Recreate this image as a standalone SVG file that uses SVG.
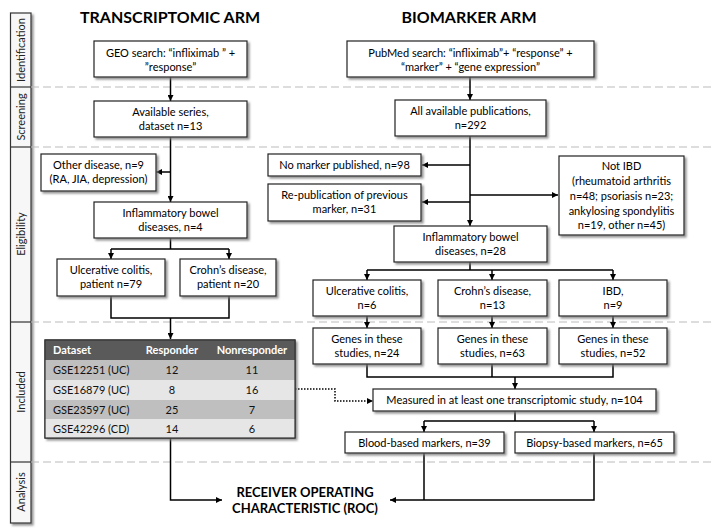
<svg xmlns="http://www.w3.org/2000/svg" width="714" height="530" viewBox="0 0 714 530">
<defs>
<filter id="sh" x="-10%" y="-10%" width="130%" height="140%">
<feDropShadow dx="2" dy="2" stdDeviation="1.2" flood-color="#777" flood-opacity="0.8"/>
</filter>
<marker id="ah" viewBox="0 0 10 10" refX="10" refY="5" markerWidth="7" markerHeight="6" markerUnits="userSpaceOnUse" orient="auto">
<path d="M0,0 L10,5 L0,10 z" fill="#000"/>
</marker>
</defs>
<style>
.box{fill:#fff;stroke:#222;stroke-width:1.2;filter:url(#sh)}
.t{font-family:Lato,"Open Sans",sans-serif;font-size:11px;fill:#000;text-anchor:middle}
.side{font-family:Lato,"Open Sans",sans-serif;font-size:11px;fill:#222;text-anchor:middle}
.title{font-family:Lato,"Open Sans",sans-serif;font-size:16px;font-weight:bold;fill:#000;text-anchor:middle}
.roc{font-family:Lato,"Open Sans",sans-serif;font-size:13px;font-weight:bold;fill:#000;text-anchor:middle}
.c{fill:none;stroke:#000;stroke-width:1.5}
.a{marker-end:url(#ah)}
.dash{fill:none;stroke:#bbb;stroke-width:1.2;stroke-dasharray:8,4}
.th{font-family:Lato,"Open Sans",sans-serif;font-size:11px;font-weight:bold;fill:#fff}
.td{font-family:Lato,"Open Sans",sans-serif;font-size:11px;fill:#111}
</style>
<rect width="714" height="530" fill="#fff"/>

<g id="sidebar">
<rect x="10.5" y="13" width="20.5" height="510" fill="#f7f7f7" stroke="#333" stroke-width="1.2" filter="url(#sh)"/>
<g stroke="#333" stroke-width="1.2">
<line x1="10.5" y1="87" x2="31" y2="87"/>
<line x1="10.5" y1="147" x2="31" y2="147"/>
<line x1="10.5" y1="322" x2="31" y2="322"/>
<line x1="10.5" y1="462" x2="31" y2="462"/>
</g>
<text class="side" transform="translate(24.5,50) rotate(-90)">Identification</text>
<text class="side" transform="translate(24.5,117) rotate(-90)">Screening</text>
<text class="side" transform="translate(24.5,234) rotate(-90)">Eligibility</text>
<text class="side" transform="translate(24.5,392) rotate(-90)">Included</text>
<text class="side" transform="translate(24.5,492) rotate(-90)">Analysis</text>
</g>

<g id="separators">
<line class="dash" x1="31" y1="87" x2="714" y2="87"/>
<line class="dash" x1="31" y1="147" x2="714" y2="147"/>
<line class="dash" x1="31" y1="322" x2="714" y2="322"/>
<line class="dash" x1="31" y1="462" x2="714" y2="462"/>
</g>

<g id="titles">
<text class="title" x="170" y="23">TRANSCRIPTOMIC ARM</text>
<text class="title" x="469" y="23">BIOMARKER ARM</text>
</g>

<g id="connectors">
<path class="c a" d="M170.5,77 V101"/>
<path class="c a" d="M170.5,137 V202"/>
<path class="c a" d="M170.5,172 H156"/>
<path class="c" d="M170.5,238 V249 M111,249 H229"/>
<path class="c a" d="M111,249 V259"/>
<path class="c a" d="M229,249 V259"/>
<path class="c" d="M111,296 V318 H229 V296"/>
<path class="c a" d="M170.5,318 V339"/>
<path class="c a" d="M170.5,438 V500 H222"/>

<path class="c a" d="M470,77 V100"/>
<path class="c a" d="M470,136 V226"/>
<path class="c a" d="M470,165 H422"/>
<path class="c a" d="M470,202 H422"/>
<path class="c a" d="M470,195 H558"/>
<path class="c" d="M470,262 V270 M367,270 H613"/>
<path class="c a" d="M367,270 V280"/>
<path class="c a" d="M492,270 V280"/>
<path class="c a" d="M613,270 V280"/>
<path class="c a" d="M367,316 V328"/>
<path class="c a" d="M492,316 V328"/>
<path class="c a" d="M613,316 V328"/>
<path class="c" d="M367,364 V377 H613 V364 M492,364 V377"/>
<path class="c a" d="M515,377 V389"/>
<path class="c" d="M515,411 V421 M424,421 H594"/>
<path class="c a" d="M424,421 V432"/>
<path class="c a" d="M594,421 V432"/>
<path class="c" d="M424,453 V500"/>
<path class="c a" d="M594,453 V500 H390"/>
<path class="c a" d="M295,389 H335 V401 H373" stroke-dasharray="1.5,1.5"/>
</g>

<g id="geo">
<rect class="box" x="94" y="41" width="153" height="36"/>
<text class="t" x="170.5" y="57">GEO search: “infliximab ” +</text>
<text class="t" x="170.5" y="71">”response”</text>
</g>
<g id="series">
<rect class="box" x="94" y="101" width="153" height="36"/>
<text class="t" x="170.5" y="116">Available series,</text>
<text class="t" x="170.5" y="130">dataset n=13</text>
</g>
<g id="other">
<rect class="box" x="41" y="154" width="115" height="37"/>
<text class="t" x="98.5" y="169">Other disease, n=9</text>
<text class="t" x="98.5" y="183">(RA, JIA, depression)</text>
</g>
<g id="ibd4">
<rect class="box" x="94" y="202" width="153" height="36"/>
<text class="t" x="170.5" y="217">Inflammatory bowel</text>
<text class="t" x="170.5" y="231">diseases, n=4</text>
</g>
<g id="uc79">
<rect class="box" x="57" y="259" width="108" height="37"/>
<text class="t" x="111" y="274">Ulcerative colitis,</text>
<text class="t" x="111" y="288">patient n=79</text>
</g>
<g id="cd20">
<rect class="box" x="180" y="259" width="96" height="37"/>
<text class="t" x="228" y="274">Crohn’s disease,</text>
<text class="t" x="228" y="288">patient n=20</text>
</g>

<g id="table">
<rect x="45" y="340" width="250" height="98" fill="#e6e6e6" stroke="#333" stroke-width="1.2" filter="url(#sh)"/>
<rect x="45" y="340" width="250" height="20" fill="#5a5a5a"/>
<rect x="45" y="360" width="250" height="20" fill="#bfbfbf"/>
<rect x="45" y="380" width="250" height="20" fill="#e6e6e6"/>
<rect x="45" y="400" width="250" height="19" fill="#bfbfbf"/>
<rect x="45" y="419" width="250" height="19" fill="#e6e6e6"/>
<rect x="45" y="340" width="250" height="98" fill="none" stroke="#333" stroke-width="1.2"/>
<text class="th" x="53" y="354">Dataset</text>
<text class="th" x="172" y="354" text-anchor="middle">Responder</text>
<text class="th" x="252" y="354" text-anchor="middle">Nonresponder</text>
<text class="td" x="53" y="374">GSE12251 (UC)</text>
<text class="td" x="172" y="374" text-anchor="middle">12</text>
<text class="td" x="252" y="374" text-anchor="middle">11</text>
<text class="td" x="53" y="394">GSE16879 (UC)</text>
<text class="td" x="172" y="394" text-anchor="middle">8</text>
<text class="td" x="252" y="394" text-anchor="middle">16</text>
<text class="td" x="53" y="413.5">GSE23597 (UC)</text>
<text class="td" x="172" y="413.5" text-anchor="middle">25</text>
<text class="td" x="252" y="413.5" text-anchor="middle">7</text>
<text class="td" x="53" y="432.5">GSE42296 (CD)</text>
<text class="td" x="172" y="432.5" text-anchor="middle">14</text>
<text class="td" x="252" y="432.5" text-anchor="middle">6</text>
</g>

<g id="roc">
<text class="roc" x="305" y="497">RECEIVER OPERATING</text>
<text class="roc" x="305" y="513">CHARACTERISTIC (ROC)</text>
</g>

<g id="pubmed">
<rect class="box" x="347" y="41" width="247" height="36"/>
<text class="t" x="470.5" y="57">PubMed search: “infliximab”+ “response” +</text>
<text class="t" x="470.5" y="71">“marker” + “gene expression”</text>
</g>
<g id="pubs">
<rect class="box" x="395" y="100" width="151" height="36"/>
<text class="t" x="470.5" y="115">All available publications,</text>
<text class="t" x="470.5" y="129">n=292</text>
</g>
<g id="nomarker">
<rect class="box" x="268" y="154" width="153" height="22"/>
<text class="t" x="344.5" y="169">No marker published, n=98</text>
</g>
<g id="republ">
<rect class="box" x="268" y="184" width="153" height="37"/>
<text class="t" x="344.5" y="199">Re-publication of previous</text>
<text class="t" x="344.5" y="213">marker, n=31</text>
</g>
<g id="notibd">
<rect class="box" x="559" y="156" width="125" height="79"/>
<text class="t" x="621.5" y="170">Not IBD</text>
<text class="t" x="621.5" y="185">(rheumatoid arthritis</text>
<text class="t" x="621.5" y="200">n=48; psoriasis n=23;</text>
<text class="t" x="621.5" y="215">ankylosing spondylitis</text>
<text class="t" x="621.5" y="229">n=19, other n=45)</text>
</g>
<g id="ibd28">
<rect class="box" x="394" y="226" width="153" height="36"/>
<text class="t" x="470.5" y="241">Inflammatory bowel</text>
<text class="t" x="470.5" y="255">diseases, n=28</text>
</g>
<g id="uc6">
<rect class="box" x="313" y="280" width="108" height="36"/>
<text class="t" x="367" y="295">Ulcerative colitis,</text>
<text class="t" x="367" y="309">n=6</text>
</g>
<g id="cd13">
<rect class="box" x="438" y="280" width="109" height="36"/>
<text class="t" x="492.5" y="295">Crohn’s disease,</text>
<text class="t" x="492.5" y="309">n=13</text>
</g>
<g id="ibd9">
<rect class="box" x="559" y="280" width="108" height="36"/>
<text class="t" x="613" y="295">IBD,</text>
<text class="t" x="613" y="309">n=9</text>
</g>
<g id="genes24">
<rect class="box" x="313" y="328" width="108" height="36"/>
<text class="t" x="367" y="343">Genes in these</text>
<text class="t" x="367" y="357">studies, n=24</text>
</g>
<g id="genes63">
<rect class="box" x="438" y="328" width="109" height="36"/>
<text class="t" x="492.5" y="343">Genes in these</text>
<text class="t" x="492.5" y="357">studies, n=63</text>
</g>
<g id="genes52">
<rect class="box" x="559" y="328" width="108" height="36"/>
<text class="t" x="613" y="343">Genes in these</text>
<text class="t" x="613" y="357">studies, n=52</text>
</g>
<g id="measured">
<rect class="box" x="373" y="389" width="283" height="22"/>
<text class="t" x="514.5" y="404">Measured in at least one transcriptomic study, n=104</text>
</g>
<g id="blood">
<rect class="box" x="345" y="432" width="159" height="21"/>
<text class="t" x="424.5" y="446.5">Blood-based markers, n=39</text>
</g>
<g id="biopsy">
<rect class="box" x="515" y="432" width="159" height="21"/>
<text class="t" x="594.5" y="446.5">Biopsy-based markers, n=65</text>
</g>
</svg>
